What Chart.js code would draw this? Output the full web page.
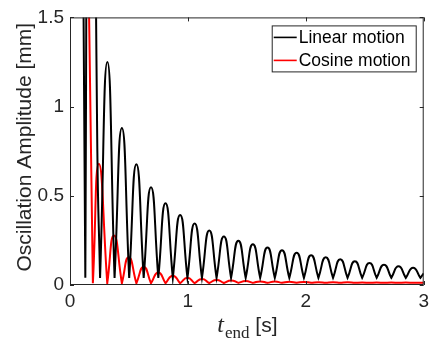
<!DOCTYPE html>
<html lang="en">
<head>
  <meta charset="UTF-8" />
  <title>Oscillation Amplitude</title>
  <script src="https://cdn.jsdelivr.net/npm/chart.js"></script>
  <style>
    body { margin: 0; background: #fff; }
    #wrap { width: 434px; height: 343px; }
  </style>
</head>
<body>
  <div id="wrap"><canvas id="chart"></canvas></div>

  <script>
    // t_end [s] and amplitude [mm] (dips and lobe tops)
    const linearT = [0.10, 0.13, 0.168, 0.232, 0.255, 0.317, 0.378, 0.44, 0.502, 0.563, 0.625,
      0.687, 0.749, 0.81, 0.872, 0.934, 0.996, 1.057, 1.119, 1.181, 1.243, 1.305, 1.366,
      1.428, 1.49, 1.551, 1.613, 1.675, 1.737, 1.798, 1.86, 1.922, 1.984, 2.045, 2.107,
      2.169, 2.231, 2.292, 2.354, 2.416, 2.478, 2.54, 2.601, 2.663, 2.725, 2.786, 2.848,
      2.91, 2.972, 3.0];
    const linearAmp = [3.0, 0.04, 5.5, 0.75, 0.04, 1.25, 0.04, 0.88, 0.04, 0.677, 0.04,
      0.548, 0.04, 0.458, 0.04, 0.393, 0.04, 0.345, 0.04, 0.306, 0.04, 0.272, 0.04,
      0.248, 0.04, 0.228, 0.04, 0.21, 0.04, 0.195, 0.04, 0.181, 0.04, 0.167, 0.04,
      0.155, 0.04, 0.144, 0.04, 0.133, 0.04, 0.123, 0.04, 0.114, 0.04, 0.105, 0.04,
      0.097, 0.04, 0.065];

    const cosineT = [0.10, 0.194, 0.245, 0.316, 0.373, 0.44, 0.498, 0.563, 0.625, 0.687,
      0.749, 0.81, 0.872, 0.934, 0.996, 1.057, 1.119, 1.181, 1.243, 1.305, 1.366, 1.428,
      1.49, 1.551, 1.613, 1.675, 1.737, 1.798, 1.86, 1.922, 1.984, 2.045, 2.107, 2.169,
      2.231, 2.292, 2.354, 2.416, 2.478, 2.54, 2.601, 2.663, 2.725, 2.786, 2.848, 2.91, 3.0];
    const cosineAmp = [4.4, 0.01, 0.68, 0.01, 0.277, 0.01, 0.155, 0.01, 0.101, 0.01,
      0.07, 0.01, 0.052, 0.01, 0.04, 0.01, 0.033, 0.011, 0.028, 0.011, 0.025, 0.012,
      0.022, 0.012, 0.02, 0.012, 0.019, 0.012, 0.018, 0.012, 0.017, 0.012, 0.016, 0.012,
      0.015, 0.012, 0.015, 0.012, 0.014, 0.012, 0.014, 0.012, 0.014, 0.012, 0.014, 0.012, 0.013];

    const xTicks = [0, 1, 2, 3];
    const yTicks = [0, 0.5, 1, 1.5];
    const seriesNames = ['Linear motion', 'Cosine motion'];
    const seriesColors = ['#000000', '#ff0000'];

    const axisColor = '#262626';
    const sans = '"Liberation Sans", Arial, sans-serif';

    // pair t/amp; a dip is listed twice so the curve keeps its sharp V there
    function toPoints(ts, amps) {
      const pts = [];
      ts.forEach((t, i) => {
        pts.push({ x: t, y: amps[i] });
        const dip = i > 0 && i < ts.length - 1 && amps[i] < amps[i - 1] && amps[i] < amps[i + 1];
        if (dip) pts.push({ x: t, y: amps[i] });
      });
      return pts;
    }

    // box, inward ticks, legend and axis titles
    const matlabLook = {
      id: 'matlabLook',
      afterDatasetsDraw(chart) {
        const { ctx, chartArea: a, scales: { x, y } } = chart;
        ctx.save();
        ctx.strokeStyle = axisColor;
        ctx.lineWidth = 1;
        ctx.strokeRect(a.left + 0.5, a.top + 0.5, a.right - a.left - 1, a.bottom - a.top - 1);

        const len = 4;
        ctx.beginPath();
        xTicks.forEach(v => {
          const px = Math.round(x.getPixelForValue(v)) + 0.5;
          ctx.moveTo(px, a.bottom); ctx.lineTo(px, a.bottom - len);
          ctx.moveTo(px, a.top); ctx.lineTo(px, a.top + len);
        });
        yTicks.forEach(v => {
          const py = Math.round(y.getPixelForValue(v)) + 0.5;
          ctx.moveTo(a.left, py); ctx.lineTo(a.left + len, py);
          ctx.moveTo(a.right, py); ctx.lineTo(a.right - len, py);
        });
        ctx.stroke();

        // legend
        const lx = a.right - 152, ly = a.top + 8, lw = 144, lh = 46;
        ctx.fillStyle = '#fff';
        ctx.fillRect(lx, ly, lw, lh);
        ctx.strokeStyle = axisColor;
        ctx.strokeRect(lx + 0.5, ly + 0.5, lw, lh);
        ctx.font = '17.5px ' + sans;
        ctx.textBaseline = 'middle';
        seriesNames.forEach((name, i) => {
          const rowY = ly + 12 + i * 23;
          ctx.strokeStyle = seriesColors[i];
          ctx.lineWidth = 1.6;
          ctx.beginPath();
          ctx.moveTo(lx + 2, rowY); ctx.lineTo(lx + 25, rowY);
          ctx.stroke();
          ctx.fillStyle = '#000';
          ctx.fillText(name, lx + 27, rowY + 1);
        });

        // y title
        ctx.fillStyle = axisColor;
        ctx.save();
        ctx.translate(25, (a.top + a.bottom) / 2 - 4);
        ctx.rotate(-Math.PI / 2);
        ctx.textAlign = 'center';
        ctx.textBaseline = 'middle';
        ctx.font = '21px ' + sans;
        ctx.fillText('Oscillation Amplitude [mm]', 0, 0);
        ctx.restore();

        // x title: t_end [s]
        const tFont = 'italic 24px "Liberation Serif", serif';
        const subFont = '17px "Liberation Serif", serif';
        const unitFont = '21px ' + sans;
        ctx.textBaseline = 'alphabetic';
        ctx.font = tFont; const wT = ctx.measureText('t').width;
        ctx.font = subFont; const wSub = ctx.measureText('end').width;
        ctx.font = unitFont; const wUnit = ctx.measureText(' [s]').width;
        let cx = (a.left + a.right) / 2 - (wT + wSub + wUnit) / 2;
        const base = 332;
        ctx.font = tFont; ctx.fillText('t', cx, base); cx += wT + 1;
        ctx.font = subFont; ctx.fillText('end', cx, base + 6); cx += wSub;
        ctx.font = unitFont; ctx.fillText(' [s]', cx, base);
        ctx.restore();
      }
    };

    const tickStyle = {
      color: axisColor,
      font: { family: sans, size: 19 },
      callback: v => String(v)
    };

    new Chart(document.getElementById('chart'), {
      type: 'line',
      data: {
        datasets: [
          { label: seriesNames[0], data: toPoints(linearT, linearAmp), borderColor: seriesColors[0] },
          { label: seriesNames[1], data: toPoints(cosineT, cosineAmp), borderColor: seriesColors[1] }
        ]
      },
      options: {
        responsive: true,
        maintainAspectRatio: false,
        animation: false,
        layout: { padding: { top: 14, right: 6, left: 0, bottom: 0 } },
        elements: {
          line: { borderWidth: 2, tension: 0.55, fill: false },
          point: { radius: 0 }
        },
        scales: {
          x: {
            type: 'linear', min: 0, max: 3,
            afterBuildTicks: s => { s.ticks = xTicks.map(v => ({ value: v })); },
            afterFit: s => { s.height = 58; },
            ticks: { ...tickStyle, padding: 5, maxRotation: 0 },
            grid: { display: false, drawTicks: false },
            border: { display: false }
          },
          y: {
            min: 0, max: 1.5,
            afterBuildTicks: s => { s.ticks = yTicks.map(v => ({ value: v })); },
            afterFit: s => { s.width = 70; },
            ticks: { ...tickStyle, padding: 6 },
            grid: { display: false, drawTicks: false },
            border: { display: false }
          }
        },
        plugins: {
          legend: { display: false },
          tooltip: { enabled: false }
        }
      },
      plugins: [matlabLook]
    });
  </script>
</body>
</html>
